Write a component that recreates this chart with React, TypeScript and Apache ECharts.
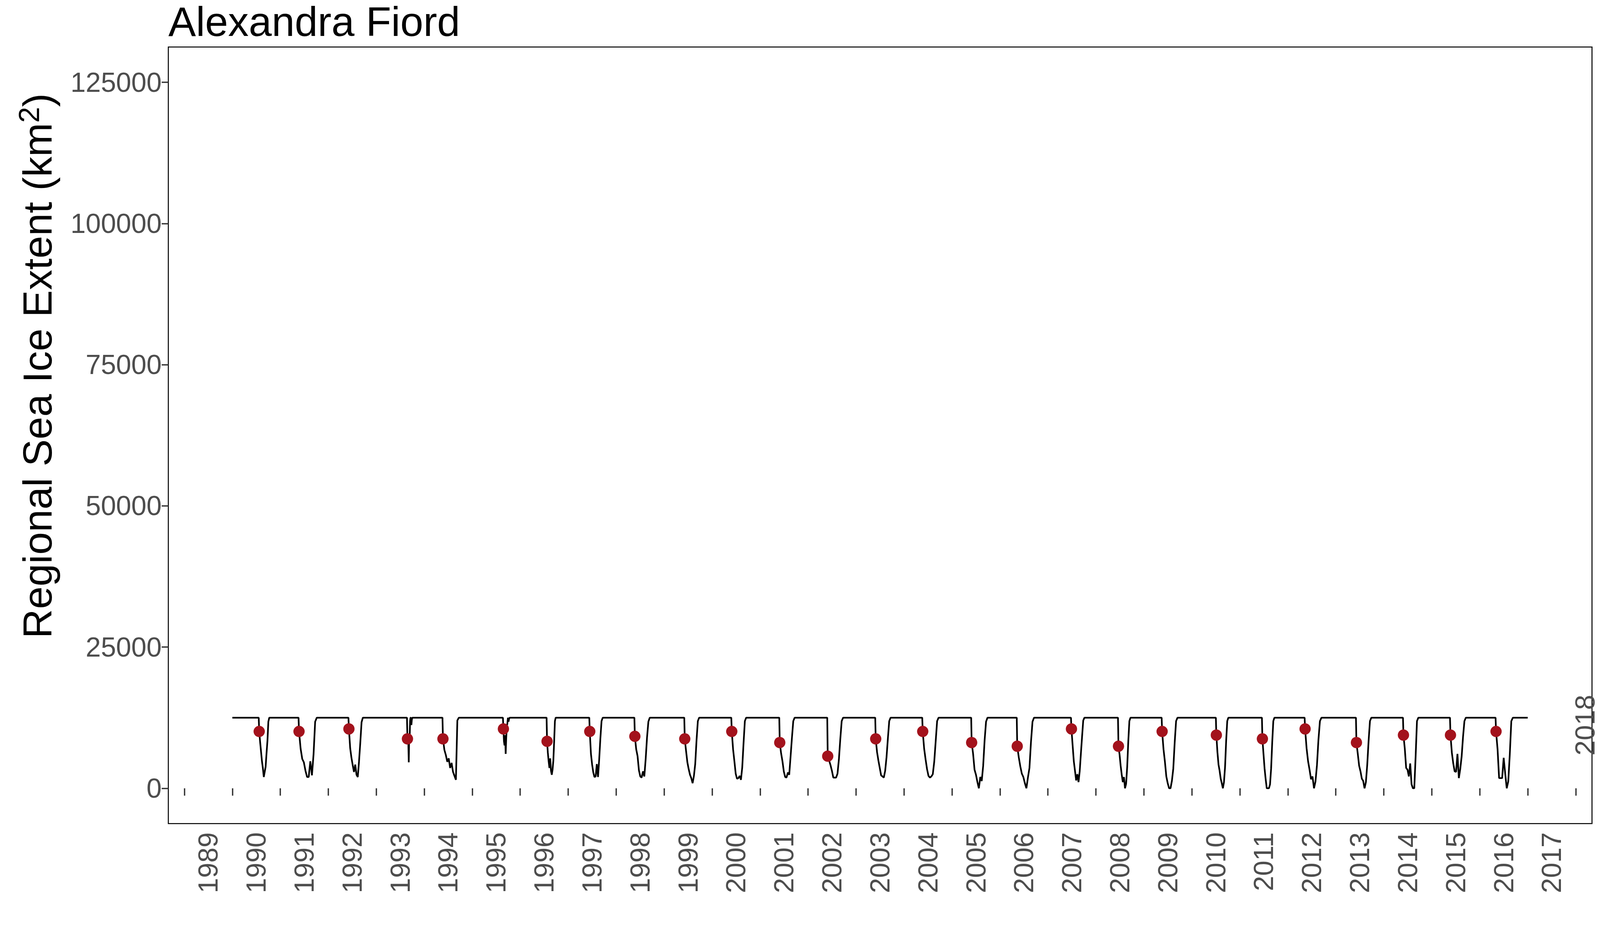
import React, { useEffect, useRef, useState } from "react";
import * as echarts from "echarts";

const years = [1990,1991,1992,1993,1994,1995,1996,1997,1998,1999,2000,2001,2002,2003,2004,2005,2006,2007,2008,2009,2010,2011,2012,2013,2014,2015,2016];
const dotFrac = [0.56,0.39,0.43,0.65,0.39,0.65,0.56,0.45,0.39,0.43,0.41,0.41,0.41,0.41,0.39,0.41,0.36,0.49,0.47,0.38,0.51,0.47,0.36,0.43,0.41,0.39,0.34];
const dotVal = [10070,10070,10510,8760,8760,10510,8320,10070,9200,8760,10070,8100,5690,8760,10070,8100,7450,10510,7450,10070,9420,8760,10510,8100,9420,9420,10070];
const recoverFrac = [0.77,0.76,0.72,0.75,0.72,0.78,0.74,0.72,0.7,0.73,0.71,0.72,0.73,0.72,0.72,0.74,0.71,0.76,0.72,0.7,0.76,0.72,0.7,0.74,0.72,0.71,0.69];
const summerVals = [
  [8200,6500,4800,3600,2000,2900,3800,6200,8400,11800],
  [7000,5200,4600,3100,2000,2000,4800,2300,6000,11800],
  [7100,5400,4100,2900,4200,2400,2000,4800,8100,11700],
  [8900,8100,4600,9400,8600,11900,12500,12500,11200,12100],
  [6800,5900,4700,5300,3600,4500,2900,2200,1500,12000],
  [8300,7600,9400,6100,9000,10900,11500,12500,11800,12300],
  [6300,4800,3600,5300,3100,2400,3300,4900,8200,11900],
  [6100,4200,2800,2000,2100,4300,2000,5100,8800,11900],
  [6900,5700,3200,2100,1900,3000,2100,5200,9000,11800],
  [6600,4600,3400,2400,1800,900,2200,4300,8500,11900],
  [6900,4800,2600,1700,1800,2200,1500,3700,8000,11900],
  [6200,4800,3000,2000,1900,2800,2400,5600,8900,11900],
  [4900,4100,3100,1900,1900,1900,2600,5100,8700,11900],
  [6400,4900,3600,2300,2100,1900,3100,5500,8800,11900],
  [7000,5100,3400,2200,1900,2100,2500,4700,8300,11900],
  [6100,3300,2400,1100,0,2000,1300,4000,8500,11800],
  [5500,3900,2600,2000,900,0,1900,3600,8200,11800],
  [7600,4800,3100,1400,2500,1100,3000,6100,9100,12000],
  [6000,4000,2400,1100,2000,0,800,3800,8300,11900],
  [6900,4700,2100,900,0,0,1300,3500,8100,11900],
  [6400,4200,3100,1700,900,0,1100,3800,8400,11900],
  [6100,3500,1600,0,0,0,700,3500,8100,11900],
  [7100,4800,3300,1600,2100,0,1200,4100,8600,11900],
  [6100,4000,3000,1700,1300,0,1100,4200,8400,11900],
  [7000,3600,3300,2100,4400,700,0,0,5600,11900],
  [6300,4400,3000,2900,6100,1800,3400,5600,9100,11900],
  [6900,1800,1800,1800,5400,2600,0,1200,6000,11900],
];
const yTicks = [0, 25000, 50000, 75000, 100000, 125000];
const xTickYears = [1989,1990,1991,1992,1993,1994,1995,1996,1997,1998,1999,2000,2001,2002,2003,2004,2005,2006,2007,2008,2009,2010,2011,2012,2013,2014,2015,2016,2017,2018];
const winterMax = 12500;

export default function App() {
  const ref = useRef<HTMLDivElement>(null);
  const [size] = useState(() => ({ w: window.innerWidth, h: window.innerHeight }));
  useEffect(() => {
    document.body.style.margin = "0";
    document.body.style.overflow = "hidden";
    const s = size.w / 4800;
    const chart = echarts.init(ref.current!, undefined, { renderer: "svg" });
    const line: number[][] = [];
    const dots: number[][] = [];
    years.forEach((y, i) => {
      line.push([y, winterMax]);
      line.push([y + dotFrac[i] - 0.01, winterMax]);
      line.push([y + dotFrac[i], dotVal[i]]);
      const vals = summerVals[i];
      const step = (recoverFrac[i] - dotFrac[i]) / (vals.length + 1);
      vals.forEach((v, k) => line.push([y + dotFrac[i] + step * (k + 1), v]));
      line.push([y + recoverFrac[i], winterMax]);
      dots.push([y + dotFrac[i], dotVal[i]]);
    });
    line.push([2017, winterMax]);
    const font = "Liberation Sans, Arial, sans-serif";
    chart.setOption({
      animation: false,
      grid: { left: 505 * s, right: 24 * s, top: 141 * s, bottom: 343 * s, show: true, borderColor: "#000", borderWidth: 3 * s, backgroundColor: "#fff" },
      xAxis: {
        type: "value", min: 1988.666, max: 2018.34,
        axisLine: { show: false },
        splitLine: { show: false },
        axisTick: { show: true, customValues: xTickYears, length: 22 * s, lineStyle: { color: "#333", width: 4 * s } },
        axisLabel: {
          customValues: xTickYears.slice(0, 29).map((v) => v + 0.5),
          formatter: (v: number) => String(Math.floor(v)),
          rotate: 90, fontSize: 82 * s, color: "#4d4d4d", fontFamily: font, margin: 26 * s,
        },
      },
      yAxis: {
        type: "value", min: -6250, max: 131250,
        axisLine: { show: false },
        splitLine: { show: false },
        axisTick: { show: true, customValues: yTicks, length: 20 * s, lineStyle: { color: "#333", width: 4 * s } },
        axisLabel: { customValues: yTicks, formatter: (v: number) => String(v), fontSize: 82 * s, color: "#4d4d4d", fontFamily: font, margin: 20 * s },
      },
      graphic: [
        { type: "text", left: 505 * s, top: 2 * s, style: { text: "Alexandra Fiord", fontSize: 124 * s, fill: "#000", fontFamily: font } },
        {
          type: "text", x: 113 * s, y: 1097 * s, rotation: Math.PI / 2,
          style: {
            text: "{a|Regional Sea Ice Extent (km}{s|2}{a|)}", fill: "#000", align: "center", verticalAlign: "middle",
            rich: { a: { fontSize: 122 * s, fontFamily: font }, s: { fontSize: 86 * s, fontFamily: font, verticalAlign: "top", padding: [0, 0, 50 * s, 0] } },
          },
        },
        { type: "text", x: 4755 * s, y: 2083 * s, rotation: Math.PI / 2, style: { text: "2018", fontSize: 82 * s, fill: "#4d4d4d", fontFamily: font, align: "right", verticalAlign: "middle" } },
      ],
      series: [
        { type: "line", data: line, showSymbol: false, lineStyle: { color: "#000", width: 5 * s }, z: 2 },
        { type: "scatter", data: dots, symbolSize: 34 * s, itemStyle: { color: "#A3121C", opacity: 1 }, z: 3 },
      ],
    });
    return () => chart.dispose();
  }, []);
  return <div ref={ref} style={{ width: size.w, height: size.h }} />;
}
